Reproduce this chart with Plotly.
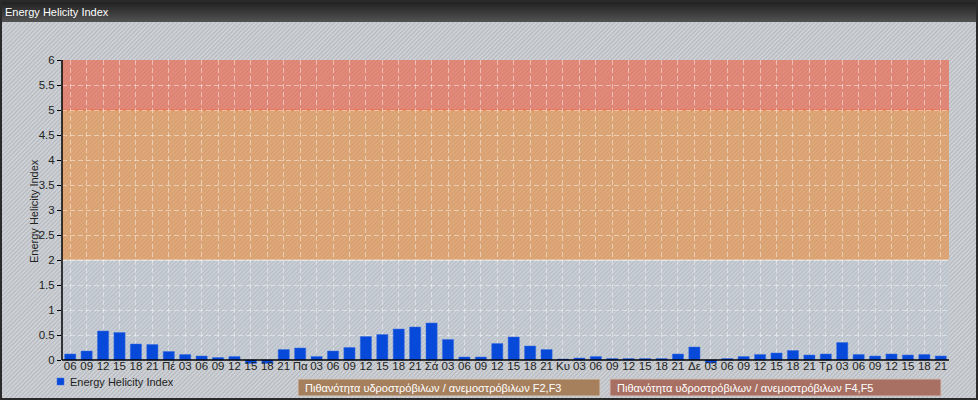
import base64
import plotly.graph_objects as go

W, H = 978, 400

# ---------------- data ----------------
tick_labels = ["06", "09", "12", "15", "18", "21",
               "Πέ", "03", "06", "09", "12", "15", "18", "21",
               "Πα", "03", "06", "09", "12", "15", "18", "21",
               "Σά", "03", "06", "09", "12", "15", "18", "21",
               "Κυ", "03", "06", "09", "12", "15", "18", "21",
               "Δε", "03", "06", "09", "12", "15", "18", "21",
               "Τρ", "03", "06", "09", "12", "15", "18", "21"]
ehi_values = [0.12, 0.18, 0.58, 0.55, 0.32, 0.31,
              0.17, 0.11, 0.08, 0.05, 0.07, -0.07, -0.07, 0.21,
              0.24, 0.07, 0.18, 0.25, 0.47, 0.51, 0.62, 0.66,
              0.74, 0.41, 0.06, 0.06, 0.33, 0.46, 0.28, 0.21,
              0.02, 0.04, 0.07, 0.03, 0.03, 0.03, 0.03, 0.12,
              0.26, -0.06, 0.03, 0.07, 0.11, 0.14, 0.19, 0.10,
              0.12, 0.35, 0.11, 0.08, 0.12, 0.10, 0.11, 0.08]
band_limits = [0, 2, 5, 6]
band_colors = ["rgba(185,198,218,0.25)", "rgba(235,140,60,0.6)", "rgba(240,92,64,0.6)"]
y_ticks = [0, 0.5, 1, 1.5, 2, 2.5, 3, 3.5, 4, 4.5, 5, 5.5, 6]
title_text = "Energy Helicity Index"
series_name = "Energy Helicity Index"
box_texts = ["Πιθανότητα υδροστρόβιλων / ανεμοστρόβιλων F2,F3",
             "Πιθανότητα υδροστρόβιλων / ανεμοστρόβιλων F4,F5"]

x_idx = list(range(len(tick_labels)))

# ---------------- background (stripes + header) ----------------
svg = f"""<svg xmlns='http://www.w3.org/2000/svg' width='{W}' height='{H}'>
<defs>
<pattern id='p' width='3' height='3' patternUnits='userSpaceOnUse' patternTransform='rotate(45)'>
<rect width='3' height='3' fill='#cdd1d5'/>
<line x1='0.5' y1='0' x2='0.5' y2='3' stroke='#b4b8bc' stroke-width='1'/>
</pattern>
<linearGradient id='g' x1='0' y1='0' x2='0' y2='1'>
<stop offset='0' stop-color='#1c1c1c'/><stop offset='1' stop-color='#525252'/>
</linearGradient>
</defs>
<rect width='{W}' height='{H}' fill='url(#p)'/>
<rect width='{W}' height='22' fill='url(#g)'/>
<rect x='1' y='1' width='{W-2}' height='{H-2}' fill='none' stroke='#2a2a2a' stroke-width='2'/>
</svg>"""
bg_uri = "data:image/svg+xml;base64," + base64.b64encode(svg.encode()).decode()

def px(x):
    return x / W

def py(y):
    return 1 - y / H

FONT = "Arial, 'Liberation Sans', sans-serif"
Y_MIN = -0.08          # small room below zero for the slightly negative bars
PX_PER_UNIT = 50.0     # 300 px for 6 units
y_bottom_px = 360 + (-Y_MIN) * PX_PER_UNIT

fig = go.Figure()
fig.add_trace(go.Bar(
    x=x_idx, y=ehi_values, name=series_name,
    marker=dict(color="#0749d9", line=dict(color="#3d6fe0", width=0.5)),
    width=0.68, showlegend=False,
))

shapes = []
for i in range(len(band_colors)):
    shapes.append(dict(type="rect", xref="x domain", yref="y",
                       x0=0, x1=1, y0=band_limits[i], y1=band_limits[i + 1],
                       fillcolor=band_colors[i], line=dict(width=0), layer="below"))
shapes.append(dict(type="line", xref="x domain", yref="y", x0=0, x1=1, y0=5, y1=5,
                   line=dict(color="rgba(240,110,60,0.9)", width=1.2), layer="below"))
shapes.append(dict(type="line", xref="x domain", yref="y", x0=0, x1=1, y0=2, y1=2,
                   line=dict(color="rgba(255,255,255,0.55)", width=1.2), layer="below"))
# axis lines
shapes.append(dict(type="line", xref="x domain", yref="y", x0=0, x1=0, y0=0, y1=6,
                   line=dict(color="black", width=1.5)))
shapes.append(dict(type="line", xref="x domain", yref="y", x0=0, x1=1, y0=0, y1=0,
                   line=dict(color="black", width=1.5)))

# legend boxes
box_geo = [(298, 600, "#a67f5d", "#d0c6bc"), (610, 941, "#a86f63", "#d0bcb8")]
annotations = []
for (x0, x1, fc, lc), txt in zip(box_geo, box_texts):
    shapes.append(dict(type="rect", xref="paper", yref="paper",
                       x0=px(x0), x1=px(x1), y0=py(396), y1=py(379),
                       fillcolor=fc, line=dict(color=lc, width=1)))
    annotations.append(dict(xref="paper", yref="paper", x=px(x0 + 5), y=py(387.5),
                            xanchor="left", yanchor="middle", showarrow=False,
                            text=txt, font=dict(family=FONT, size=11, color="white")))

# legend square + text
shapes.append(dict(type="rect", xref="paper", yref="paper",
                   x0=px(57), x1=px(64), y0=py(385), y1=py(378),
                   fillcolor="#0749d9", line=dict(color="#3d6fe0", width=0.5)))
annotations.append(dict(xref="paper", yref="paper", x=px(68), y=py(381.5),
                        xanchor="left", yanchor="middle", showarrow=False,
                        text=series_name, font=dict(family=FONT, size=11, color="#222")))
# header title
annotations.append(dict(xref="paper", yref="paper", x=px(3), y=py(11.5),
                        xanchor="left", yanchor="middle", showarrow=False,
                        text=title_text, font=dict(family=FONT, size=11, color="white")))
# y axis title
annotations.append(dict(xref="paper", yref="paper", x=px(34), y=py(211),
                        xanchor="center", yanchor="middle", showarrow=False, textangle=-90,
                        text=series_name, font=dict(family=FONT, size=11, color="#222")))

fig.update_layout(
    width=W, height=H,
    margin=dict(l=0, r=0, t=0, b=0),
    paper_bgcolor="#c4c8cc",
    plot_bgcolor="rgba(0,0,0,0)",
    template="none",
    showlegend=False,
    font=dict(family=FONT, size=12, color="#222"),
    images=[dict(source=bg_uri, xref="paper", yref="paper", x=0, y=1,
                 sizex=1, sizey=1, sizing="stretch", xanchor="left", yanchor="top",
                 layer="below")],
    shapes=shapes,
    annotations=annotations,
    xaxis=dict(
        domain=[px(62), px(949)], range=[-0.5, len(tick_labels) - 0.5],
        tickmode="array", tickvals=x_idx, ticktext=tick_labels,
        ticks="", showline=False,
        showgrid=True, gridcolor="rgba(255,255,255,0.45)", griddash="5px,3px", gridwidth=1,
        zeroline=False, tickangle=0, automargin=False, ticklabelstandoff=-7,
        tickfont=dict(family=FONT, size=11.5, color="#222"),
    ),
    yaxis=dict(
        domain=[py(y_bottom_px), py(60)], range=[Y_MIN, 6],
        tickmode="array", tickvals=y_ticks,
        ticks="outside", ticklen=4, tickcolor="black",
        showline=False,
        showgrid=True, gridcolor="rgba(255,255,255,0.45)", griddash="5px,3px", gridwidth=1,
        zeroline=False, automargin=False,
        tickfont=dict(family=FONT, size=11.5, color="#222"),
    ),
)

fig.write_html("out.html", config={"displayModeBar": False})

with open("out.html", "r", encoding="utf-8") as f:
    html = f.read()
html = html.replace("<head>", "<head><style>html,body{margin:0;padding:0;overflow:hidden;}</style>", 1)
with open("out.html", "w", encoding="utf-8") as f:
    f.write(html)
